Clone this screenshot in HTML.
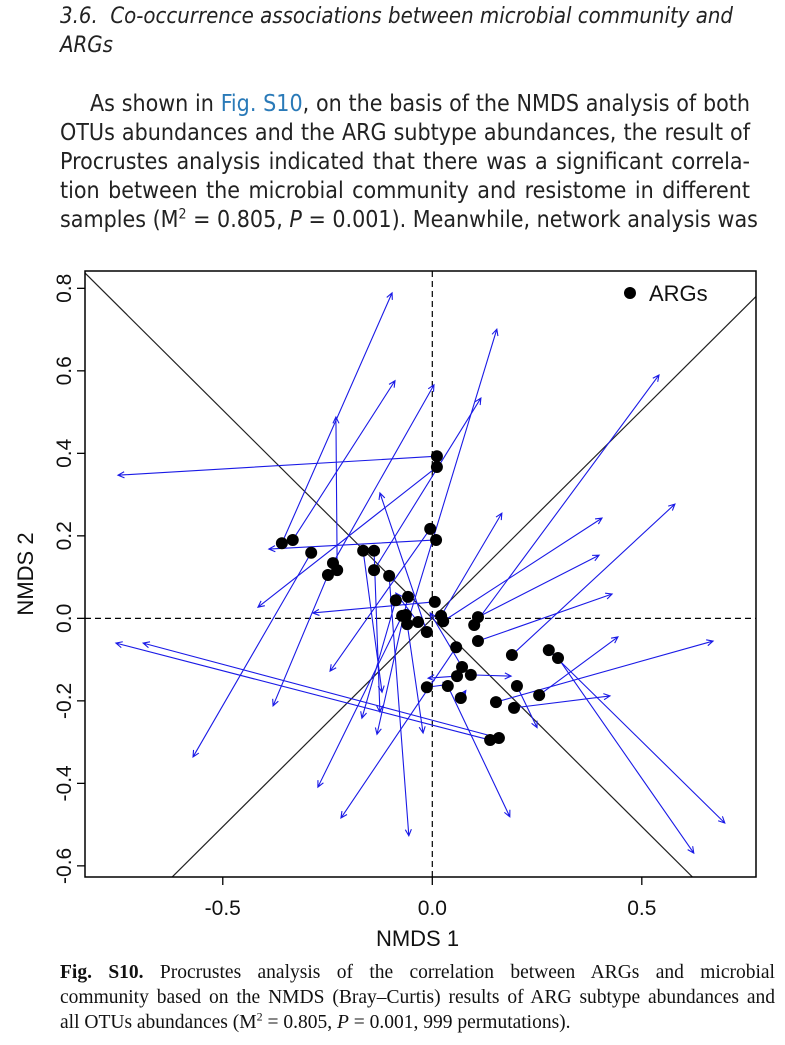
<!DOCTYPE html>
<html><head><meta charset="utf-8">
<style>
body{margin:0;width:785px;height:1045px;background:#fff;position:relative;overflow:hidden;}
.ln{position:absolute;left:60px;width:690px;white-space:nowrap;text-align:justify;text-align-last:justify;font-family:"Liberation Sans Narrow","DejaVu Sans Condensed","Liberation Sans",sans-serif;font-size:23px;color:#222;line-height:28px;}
.hd{position:absolute;left:60px;font-family:"Liberation Sans Narrow","DejaVu Sans Condensed","Liberation Sans",sans-serif;font-style:italic;font-size:22px;color:#222;line-height:28px;white-space:nowrap;}
.cp{position:absolute;left:60px;width:715px;white-space:nowrap;text-align:justify;text-align-last:justify;font-family:"Liberation Serif",serif;font-size:19.5px;color:#111;line-height:22px;}
.blue{color:#2a7ab8;}
svg{position:absolute;left:0;top:0;}
</style></head>
<body>
<div class="hd" style="top:3px;">3.6.&nbsp; Co-occurrence associations between microbial community and</div>
<div class="hd" style="top:32px;">ARGs</div>
<div>
<div class="ln" style="top:90px;left:90px;width:660px;">As shown in <span class="blue">Fig. S10</span>, on the basis of the NMDS analysis of both</div>
<div class="ln" style="top:119px;">OTUs abundances and the ARG subtype abundances, the result of</div>
<div class="ln" style="top:148px;">Procrustes analysis indicated that there was a significant correla-</div>
<div class="ln" style="top:177px;">tion between the microbial community and resistome in different</div>
<div class="ln" style="top:206px;">samples (M<sup style="font-size:14px;line-height:0">2</sup> = 0.805, <i>P</i> = 0.001). Meanwhile, network analysis was</div>
</div>

<svg id="chart" width="785" height="1045"></svg>

<div>
<div class="cp" style="top:962px;"><b>Fig. S10.</b> Procrustes analysis of the correlation between ARGs and microbial</div>
<div class="cp" style="top:987px;">community based on the NMDS (Bray–Curtis) results of ARG subtype abundances and</div>
<div class="cp" style="top:1012px;text-align-last:left;">all OTUs abundances (M<sup style="font-size:12px;line-height:0">2</sup> = 0.805, <i>P</i> = 0.001, 999 permutations).</div>
</div>

<script>
const argX=[0.011,0.011,-0.005,0.009,-0.359,-0.333,-0.289,-0.165,-0.139,-0.237,-0.227,-0.249,-0.139,-0.103,-0.087,-0.058,0.006,-0.072,-0.063,-0.060,-0.034,-0.013,0.021,0.026,0.109,0.100,0.109,0.057,0.071,0.059,0.092,0.037,-0.013,0.068,0.190,0.202,0.255,0.195,0.152,0.278,0.300,0.138,0.159];
const argY=[0.393,0.367,0.217,0.190,0.182,0.190,0.159,0.164,0.164,0.134,0.117,0.105,0.117,0.103,0.044,0.052,0.040,0.006,0.008,-0.014,-0.009,-0.033,0.006,-0.007,0.003,-0.016,-0.055,-0.070,-0.118,-0.140,-0.137,-0.164,-0.167,-0.193,-0.089,-0.164,-0.186,-0.217,-0.203,-0.077,-0.096,-0.295,-0.290];
const otuX=[-0.750,-0.416,-0.244,-0.390,-0.096,-0.089,-0.571,-0.120,-0.125,0.004,-0.230,-0.380,0.116,-0.056,-0.168,-0.132,-0.285,-0.273,-0.022,0.154,-0.087,-0.125,0.166,0.405,0.398,0.541,0.429,-0.218,-0.005,-0.010,0.188,0.185,0.040,0.080,0.579,0.250,0.443,0.424,0.670,0.698,0.624,-0.755,-0.690];
const otuY=[0.347,0.027,-0.128,0.168,0.789,0.576,-0.336,-0.179,-0.227,0.566,0.488,-0.212,0.534,-0.527,-0.242,-0.281,0.013,-0.409,-0.278,0.701,0.061,0.304,0.255,0.243,0.153,0.590,0.059,-0.484,0.013,-0.145,-0.140,-0.481,-0.160,-0.175,0.277,-0.265,-0.045,-0.188,-0.055,-0.496,-0.569,-0.060,-0.060];
const xTicks=[-0.5,0.0,0.5];
const yTicks=[-0.6,-0.4,-0.2,0.0,0.2,0.4,0.6,0.8];
const rotSlopes=[1.01,-1.01];

const svg=document.getElementById('chart');
const NS='http://www.w3.org/2000/svg';
const L=85,R=756,T=271,B=877;
const X0=-0.8288,X1=0.7725,Y0=-0.627,Y1=0.842;
const sx=v=>L+(v-X0)/(X1-X0)*(R-L);
const sy=v=>B-(v-Y0)/(Y1-Y0)*(B-T);
function mk(tag,attrs,parent){const e=document.createElementNS(NS,tag);for(const k in attrs)e.setAttribute(k,attrs[k]);(parent||svg).appendChild(e);return e;}

const clip=mk('clipPath',{id:'pc'});mk('rect',{x:L,y:T,width:R-L,height:B-T},clip);
const g=mk('g',{'clip-path':'url(#pc)'});

rotSlopes.forEach((s,i)=>{
  const ln=mk('line',{x1:sx(X0-0.2),y1:sy(s*(X0-0.2)),x2:sx(X1+0.2),y2:sy(s*(X1+0.2)),stroke:'#222','stroke-width':1.2},g);
  
  
});
const hz=mk('line',{x1:L,y1:sy(0),x2:R,y2:sy(0),stroke:'#000','stroke-width':1.2,'stroke-dasharray':'6,4'},g);


const vz=mk('line',{x1:sx(0),y1:T,x2:sx(0),y2:B,stroke:'#000','stroke-width':1.2,'stroke-dasharray':'6,4'},g);



for(let i=0;i<argX.length;i++){
  const x1=sx(argX[i]),y1=sy(argY[i]),x2=sx(otuX[i]),y2=sy(otuY[i]);
  const a=Math.atan2(y2-y1,x2-x1),h=7,w=0.45;
  const p=`M${x1},${y1}L${x2},${y2}M${x2-h*Math.cos(a-w)},${y2-h*Math.sin(a-w)}L${x2},${y2}L${x2-h*Math.cos(a+w)},${y2-h*Math.sin(a+w)}`;
  const ar=mk('path',{d:p,stroke:'#1a1ae6','stroke-width':1.1,fill:'none'},g);
  
  
}
for(let i=0;i<argX.length;i++){
  const c=mk('circle',{cx:sx(argX[i]),cy:sy(argY[i]),r:6,fill:'#000'},g);
  
  
}
const fr=mk('rect',{x:L,y:T,width:R-L,height:B-T,fill:'none',stroke:'#000','stroke-width':1.5});



xTicks.forEach(v=>{
  const t=mk('line',{x1:sx(v),y1:B,x2:sx(v),y2:B+8,stroke:'#000','stroke-width':1.3});
  
  
  const tx=mk('text',{x:sx(v),y:B+38,'text-anchor':'middle','font-family':'Liberation Sans, sans-serif','font-size':21,fill:'#111'});
  tx.textContent=v.toFixed(1);
  
  
});
yTicks.forEach(v=>{
  const t=mk('line',{x1:L,y1:sy(v),x2:L-8,y2:sy(v),stroke:'#000','stroke-width':1.3});
  
  
  const tx=mk('text',{x:0,y:0,'text-anchor':'middle','font-family':'Liberation Sans, sans-serif','font-size':21,fill:'#111',transform:`translate(${L-14},${sy(v)}) rotate(-90)`});
  tx.textContent=v.toFixed(1);
  
  
});
const xl=mk('text',{x:(L+R)/2-3,y:946,'text-anchor':'middle','font-family':'Liberation Sans, sans-serif','font-size':22,fill:'#111'});
xl.textContent='NMDS 1';


const yl=mk('text',{x:0,y:0,'text-anchor':'middle','font-family':'Liberation Sans, sans-serif','font-size':22,fill:'#111',transform:`translate(33,${(T+B)/2})rotate(-90)`});
yl.textContent='NMDS 2';



const lg=mk('g',{});


mk('circle',{cx:630,cy:293,r:6,fill:'#000'},lg);
const lt=mk('text',{x:649,y:301,'font-family':'Liberation Sans, sans-serif','font-size':22,fill:'#111'},lg);
lt.textContent='ARGs';
</script>
</body></html>
